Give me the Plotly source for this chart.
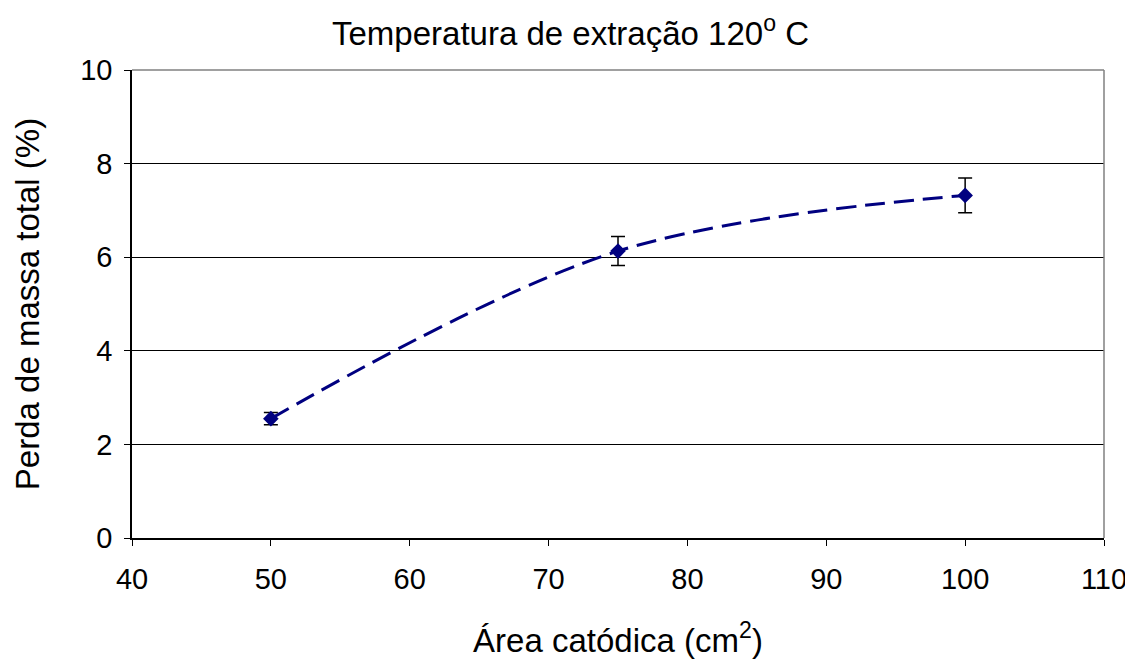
import plotly.graph_objects as go

area = [50, 75, 100]
perda = [2.55, 6.13, 7.32]
erro = [0.13, 0.31, 0.37]

x_ticks = [40, 50, 60, 70, 80, 90, 100, 110]
y_ticks = [0, 2, 4, 6, 8, 10]

fig = go.Figure()
fig.add_trace(go.Scatter(
    x=area, y=perda, mode="lines+markers",
    line=dict(color="#000080", width=3, dash="20px,9px", shape="spline", smoothing=1.0),
    marker=dict(symbol="diamond", size=12, color="#000080"),
    error_y=dict(type="data", array=erro, visible=True, color="black", thickness=1.5, width=7),
    showlegend=False,
))

font = "Liberation Sans, Arial, sans-serif"
fig.update_layout(
    width=1125, height=652,
    margin=dict(l=124, r=29, t=62, b=122),
    paper_bgcolor="white", plot_bgcolor="white",
    font=dict(family=font, size=29, color="black"),
    title=dict(text="Temperatura de extração 120<sup>o</sup> C", x=0.5, xanchor="center",
               xref="container", y=1 - 25 / 652, yanchor="middle", font=dict(size=33, family=font)),
    xaxis=dict(range=[40, 110], tickvals=x_ticks, showgrid=False,
               showline=True, linecolor="black", linewidth=1.5,
               ticks="outside", ticklen=6, tickcolor="black", ticklabelstandoff=8,
               title=dict(text="Área catódica (cm<sup>2</sup>)", font=dict(size=33), standoff=35),
               zeroline=False, automargin=False),
    yaxis=dict(range=[0, 10], tickvals=y_ticks, showgrid=True, gridcolor="black", gridwidth=1,
               showline=True, linecolor="black", linewidth=1.5,
               ticks="outside", ticklen=6, tickcolor="black", ticklabelstandoff=6,
               title=dict(text="Perda de massa total (%)", font=dict(size=33), standoff=31),
               zeroline=False, automargin=False),
)
fig.add_shape(type="line", xref="paper", yref="paper", x0=0, x1=1, y0=1, y1=1,
              line=dict(color="#808080", width=1.5))
fig.add_shape(type="line", xref="paper", yref="paper", x0=1, x1=1, y0=0, y1=1,
              line=dict(color="#808080", width=1.5))
fig.write_html("out.html")
